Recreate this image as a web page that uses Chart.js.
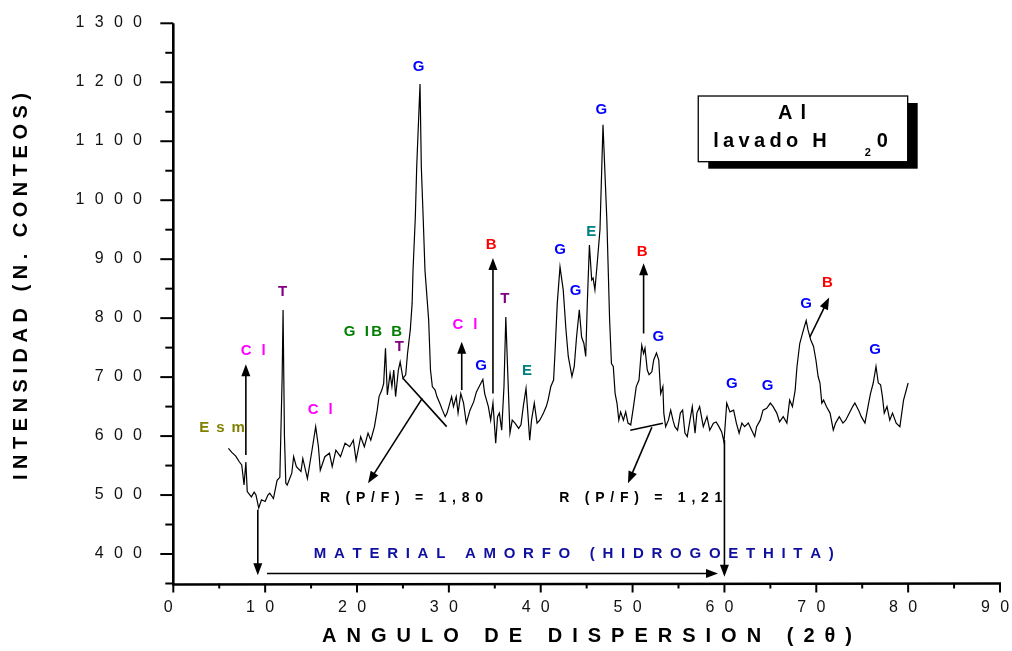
<!DOCTYPE html>
<html><head><meta charset="utf-8">
<script src="https://cdn.jsdelivr.net/npm/chart.js@4.4.0/dist/chart.umd.min.js"></script>
<style>html,body{margin:0;padding:0;background:#fff}#wrap{width:1012px;height:651px;position:relative}</style>
</head><body><div id="wrap"><canvas id="c" width="1012" height="651"></canvas></div>
<script>
// ---- data ----
const angle = [6.0,6.4,6.8,7.2,7.45,7.7,7.9,8.05,8.5,8.8,9.0,9.3,9.6,10.0,10.3,10.5,10.9,11.3,11.6,11.85,11.95,12.1,12.25,12.4,12.9,13.1,13.4,13.9,14.1,14.6,15.1,15.5,15.8,16.0,16.5,17.0,17.3,17.7,18.2,18.7,19.2,19.6,19.9,20.4,20.8,21.2,21.5,21.9,22.2,22.4,22.7,22.9,23.1,23.3,23.6,23.8,24.0,24.2,24.5,24.7,24.85,25.0,25.3,25.5,25.8,26.0,26.1,26.35,26.5,26.86,27.0,27.2,27.4,27.8,28.0,28.2,28.5,28.7,29.0,29.3,29.6,29.8,30.0,30.3,30.5,30.8,31.0,31.3,31.6,31.9,32.3,32.7,33.0,33.4,33.7,33.9,34.3,34.55,34.8,35.1,35.3,35.5,35.75,36.0,36.2,36.4,36.65,36.9,37.2,37.6,37.85,38.1,38.4,38.6,38.8,39.0,39.3,39.6,39.9,40.3,40.6,40.8,41.1,41.4,41.55,41.8,42.1,42.45,42.75,43.0,43.4,43.65,43.9,44.2,44.45,44.7,44.9,45.07,45.3,45.55,45.7,45.9,46.15,46.45,46.78,47.2,47.5,47.7,47.9,48.1,48.3,48.5,48.7,49.0,49.25,49.5,49.8,50.1,50.4,50.7,51.0,51.2,51.35,51.6,51.8,52.1,52.3,52.6,52.85,53.06,53.3,53.4,53.6,53.9,54.15,54.4,54.6,54.9,55.2,55.45,55.7,55.95,56.25,56.5,56.8,57.0,57.3,57.7,58.1,58.4,58.8,59.1,59.4,59.7,59.95,60.25,60.6,61.0,61.3,61.6,61.9,62.2,62.6,62.97,63.3,63.5,63.9,64.2,64.6,65.0,65.3,65.7,66.0,66.4,66.8,67.1,67.4,67.7,67.9,68.2,68.6,68.9,69.1,69.4,69.7,69.96,70.2,70.4,70.6,70.8,71.1,71.5,71.85,72.1,72.5,72.9,73.2,73.6,73.96,74.2,74.6,74.9,75.3,75.7,75.9,76.2,76.5,76.75,77.0,77.2,77.4,77.7,78.0,78.3,78.7,79.1,79.5,80.0];
const counts = [579,572,566,556,551,517,556,506,497,505,500,478,492,489,500,503,494,525,530,700,814,600,520,517,537,565,548,540,562,528,576,616,582,542,565,571,548,576,565,588,582,593,559,599,582,605,593,616,644,667,678,689,749,670,706,684,712,667,712,726,712,698,704,740,780,825,882,972,1057,1197,1057,972,881,797,712,684,678,667,656,644,633,639,650,667,650,667,639,672,656,622,644,658,675,687,696,672,650,627,656,588,633,639,610,684,802,712,605,627,622,613,619,650,681,639,593,627,656,622,627,639,650,661,684,695,740,825,887,848,780,735,701,718,768,814,768,757,735,825,924,865,868,848,893,950,1128,966,797,723,718,672,656,627,641,627,641,622,619,650,684,695,754,740,749,712,704,709,729,741,729,672,684,639,616,627,644,627,616,610,639,644,605,599,627,650,605,639,650,616,633,610,622,624,616,607,590,656,641,644,622,605,622,616,622,610,599,616,627,644,647,656,650,639,624,633,622,661,650,678,718,757,780,796,780,763,752,729,701,690,656,661,650,639,610,622,633,622,627,639,650,656,644,633,622,656,672,690,718,690,687,667,639,650,627,639,622,616,661,690];
const xTickValues = [0,10,20,30,40,50,60,70,80,90];
const yTickValues = [400,500,600,700,800,900,1000,1100,1200,1300];
const xTitle = 'ANGULO DE DISPERSION (2\u03B8)';
const yTitle = 'INTENSIDAD (N. CONTEOS)';
const peakTexts = ['Esm','Cl','T','Cl','G IB B','T','G','Cl','G','B','T','E','G','G','E','G','B','G','G','G','G','B','G'];
const peakAngles = [5.3,8.7,11.9,16.0,21.74,24.6,26.7,31.75,33.5,34.6,36.1,38.5,42.1,43.8,45.5,46.6,51.05,52.8,60.8,64.7,68.9,71.2,76.4];
const peakCounts = [613.7,744,844,644,776,751.6,1226,788,719,924,832,711,915.5,846.5,946.6,1154,912.7,767.5,687.8,685,823.5,859,746];
const phaseColors = {E_sm:'#808000',Cl:'#FF00FF',T:'#800080',GIB:'#008000',G:'#0000FF',B:'#FF0000',E:'#008080'};
const peakPhase = ['E_sm','Cl','T','Cl','GIB','T','G','Cl','G','B','T','E','G','G','E','G','B','G','G','G','G','B','G'];
const ratioTexts = ['R (P/F) = 1,80','R (P/F) = 1,21'];
const amorphText = 'MATERIAL AMORFO (HIDROGOETHITA)';
const sampleTitle = ['Al','lavado H','2','0'];

// annotation geometry in data units
const arrowsData = [
  [7.9,568,7.9,722],[31.4,678,31.4,760],[34.8,672,34.8,902],[51.2,774,51.2,893],[69.3,768,71.4,835],
  [27.1,664,21.2,520],[52.1,615,49.5,520],[9.2,475,9.2,364],[10.2,367,59.3,367],[60,593,60,361.5]
];
const linesData = [[25.0,698,29.76,616],[49.75,610,53.3,621.6]];

const FONT = '"Liberation Sans", Arial, Helvetica, sans-serif';

function charsWidth(ctx, t){ let w=0; for(const ch of t) w+=ctx.measureText(ch).width; return w; }
function drawSpaced(ctx, t, x, y, sp, align){
  const n=[...t].length; const w=charsWidth(ctx,t)+sp*(n-1);
  let cx = align==='center'? x-w/2 : align==='right'? x-w : x;
  ctx.textAlign='left';
  for(const ch of t){ ctx.fillText(ch,cx,y); cx+=ctx.measureText(ch).width+sp; }
  return cx - sp;
}
function drawFit(ctx, t, cx, cy, width){
  const n=[...t].length; const sp=(width-charsWidth(ctx,t))/(n-1);
  drawSpaced(ctx,t,cx,cy,sp,'center');
}
function arrow(ctx,x1,y1,x2,y2){
  const L=12, W=4.5; const a=Math.atan2(y2-y1,x2-x1);
  ctx.beginPath(); ctx.moveTo(x1,y1); ctx.lineTo(x2-Math.cos(a)*L*0.8,y2-Math.sin(a)*L*0.8); ctx.stroke();
  ctx.beginPath(); ctx.moveTo(x2,y2);
  ctx.lineTo(x2-Math.cos(a)*L-Math.sin(a)*W, y2-Math.sin(a)*L+Math.cos(a)*W);
  ctx.lineTo(x2-Math.cos(a)*L+Math.sin(a)*W, y2-Math.sin(a)*L-Math.cos(a)*W);
  ctx.closePath(); ctx.fill();
}

const decor = {
  id:'decor',
  afterDraw(chart){
    const ctx=chart.ctx, xs=chart.scales.x, ys=chart.scales.y, ca=chart.chartArea;
    const px=v=>xs.getPixelForValue(v), py=v=>ys.getPixelForValue(v);
    ctx.save();
    ctx.strokeStyle='#000'; ctx.fillStyle='#000';
    ctx.lineWidth=2.6;
    ctx.beginPath(); ctx.moveTo(ca.left,ca.top); ctx.lineTo(ca.left,ca.bottom+1); ctx.lineTo(ca.right+1,ca.bottom); ctx.stroke();
    ctx.lineWidth=2;
    for(let v=0; v<=90; v+=5){ const x=px(v); const L = v%10===0?9:5; ctx.beginPath(); ctx.moveTo(x,ca.bottom); ctx.lineTo(x,ca.bottom+L); ctx.stroke(); }
    for(let v=350; v<=1300; v+=50){ const y=py(v); const L = v%100===0?13:8; ctx.beginPath(); ctx.moveTo(ca.left,y); ctx.lineTo(ca.left-L,y); ctx.stroke(); }
    ctx.font='16px '+FONT; ctx.textBaseline='middle'; ctx.fillStyle='#111';
    xTickValues.forEach(v=>drawSpaced(ctx,String(v),px(v)-5,608,10.3,'center'));
    yTickValues.forEach(v=>drawSpaced(ctx,String(v),142,py(v)-0.5,10.3,'right'));
    ctx.fillStyle='#000'; ctx.font='bold 20px '+FONT;
    drawFit(ctx,xTitle,587,636,530);
    ctx.save(); ctx.translate(21.5,286.5); ctx.rotate(-Math.PI/2); drawFit(ctx,yTitle,0,0,387); ctx.restore();
    ctx.lineWidth=1.6; ctx.strokeStyle='#000'; ctx.fillStyle='#000';
    linesData.forEach(l=>{ctx.beginPath();ctx.moveTo(px(l[0]),py(l[1]));ctx.lineTo(px(l[2]),py(l[3]));ctx.stroke();});
    arrowsData.forEach(a=>arrow(ctx,px(a[0]),py(a[1]),px(a[2]),py(a[3])));
    ctx.font='bold 15px '+FONT; ctx.textBaseline='middle';
    peakTexts.forEach((t,i)=>{ ctx.fillStyle=phaseColors[peakPhase[i]]; const sp = t==='G IB B'?2.5:(t==='Cl'?10:(t==='Esm'?7:0)); drawSpaced(ctx,t,px(peakAngles[i]),py(peakCounts[i]),sp,'center'); });
    ctx.fillStyle='#000'; ctx.font='bold 14px '+FONT;
    drawFit(ctx,ratioTexts[0],px(24.85),py(495),163);
    drawFit(ctx,ratioTexts[1],px(50.9),py(495),163);
    ctx.fillStyle='#1010A0'; ctx.font='bold 15px '+FONT;
    drawFit(ctx,amorphText,px(43.6),py(400.5),520);
    const bx1=px(57.15), bx2=px(79.95), by1=py(1176.7), by2=py(1065.3);
    ctx.fillStyle='#000'; ctx.fillRect(bx1+10,by1+7,bx2-bx1,by2-by1);
    ctx.fillStyle='#fff'; ctx.fillRect(bx1,by1,bx2-bx1,by2-by1);
    ctx.lineWidth=1.3; ctx.strokeStyle='#000'; ctx.strokeRect(bx1,by1,bx2-bx1,by2-by1);
    ctx.fillStyle='#000'; ctx.font='bold 20px '+FONT; ctx.textBaseline='middle';
    drawSpaced(ctx,sampleTitle[0],792,by1+17,8,'center');
    let ex = drawSpaced(ctx,sampleTitle[1],bx1+15,by1+45,4.3,'left');
    ctx.font='bold 11px '+FONT; ctx.fillText(sampleTitle[2], ex+38, by1+57);
    ctx.font='bold 20px '+FONT; ctx.fillText(sampleTitle[3], ex+50, by1+45);
    ctx.restore();
  }
};

new Chart(document.getElementById('c'),{
  type:'line',
  data:{datasets:[{data:angle.map((a,i)=>({x:a,y:counts[i]})),borderColor:'#000',borderWidth:1.2,pointRadius:0,tension:0,fill:false}]},
  options:{
    responsive:false, animation:false, events:[],
    layout:{padding:{left:0,top:23.3,right:12,bottom:0}},
    plugins:{legend:{display:false},tooltip:{enabled:false}},
    scales:{
      x:{type:'linear',min:0,max:90,grid:{display:false},border:{display:false},ticks:{display:false},afterFit:s=>{s.height=67.5;}},
      y:{type:'linear',min:350,max:1300,grid:{display:false},border:{display:false},ticks:{display:false},afterFit:s=>{s.width=173.3;}}
    }
  },
  plugins:[decor]
});
</script></body></html>
